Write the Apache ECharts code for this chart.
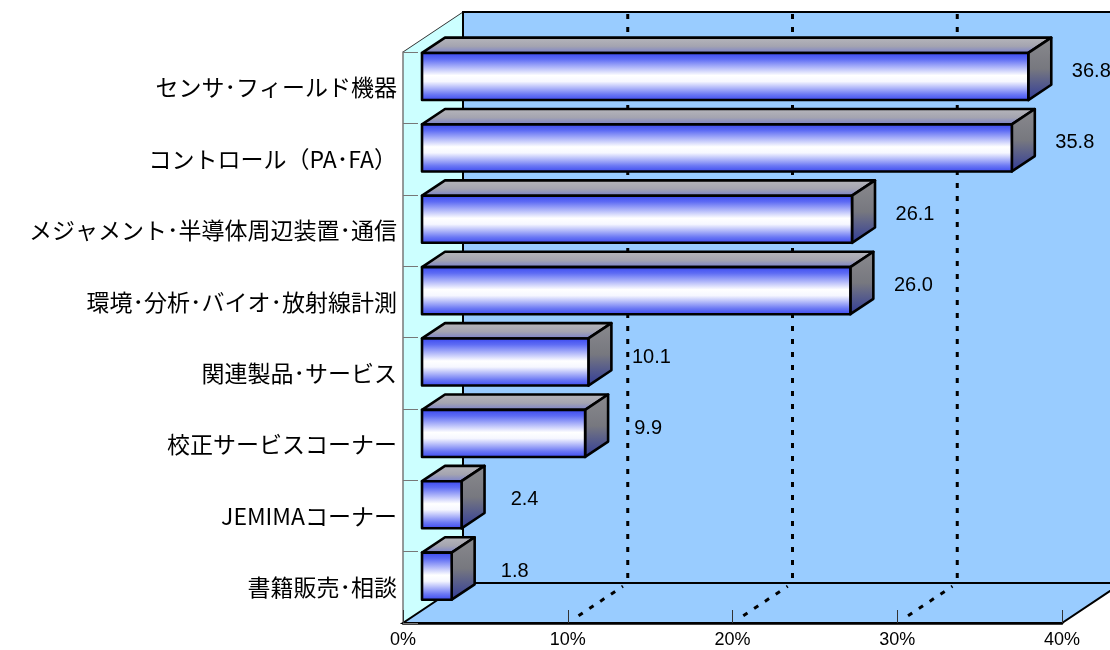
<!DOCTYPE html>
<html>
<head>
<meta charset="utf-8">
<script src="https://cdn.jsdelivr.net/npm/echarts@6/dist/echarts.min.js"></script>
<style>
html,body{margin:0;padding:0;background:#fff;}
#chart{width:1110px;height:650px;}
</style>
</head>
<body>
<div id="chart"></div>
<script>
const categories = [
  'センサ･フィールド機器',
  'コントロール（PA･FA）',
  'メジャメント･半導体周辺装置･通信',
  '環境･分析･バイオ･放射線計測',
  '関連製品･サービス',
  '校正サービスコーナー',
  'JEMIMAコーナー',
  '書籍販売･相談'
];
const values = [36.8, 35.8, 26.1, 26.0, 10.1, 9.9, 2.4, 1.8];
const xTicks = [0, 10, 20, 30, 40];
const gridValues = [10, 20, 30];

// 3D styling constants
const DX = 60, DY = -40;          // depth vector of the plot box
const F1 = 0.317, F2 = 0.70;      // bar front/back depth fractions
const BAR_RATIO = 0.66;
const LABEL_DX = 63, LABEL_DY = -5;

const chart = echarts.init(document.getElementById('chart'), null, {renderer: 'canvas'});

function frontGrad() {
  return new echarts.graphic.LinearGradient(0, 0, 0, 1, [
    {offset: 0, color: '#3543f0'},
    {offset: 0.15, color: '#5e6cf4'},
    {offset: 0.48, color: '#ffffff'},
    {offset: 0.6, color: '#f6f7ff'},
    {offset: 0.86, color: '#6b78f4'},
    {offset: 1, color: '#3543f0'}
  ]);
}
function topGrad() {
  return new echarts.graphic.LinearGradient(0, 0, 0, 1, [
    {offset: 0, color: '#b8b8bc'},
    {offset: 0.55, color: '#a4a4b0'},
    {offset: 1, color: '#737bd0'}
  ]);
}
function sideGrad() {
  return new echarts.graphic.LinearGradient(0, 0, 0, 1, [
    {offset: 0, color: '#8a8a8e'},
    {offset: 0.5, color: '#77787f'},
    {offset: 1, color: '#2f3a9a'}
  ]);
}

const dashStyle = {stroke: '#000', lineWidth: 3, lineDash: [5, 8]};

function renderWalls(params, api) {
  const n = categories.length;
  const bandH = api.size([0, 1])[1];
  const x0 = api.coord([xTicks[0], 0])[0];
  const x1 = api.coord([xTicks[xTicks.length - 1], 0])[0];
  const yTop = api.coord([0, 0])[1] - bandH / 2;
  const yBot = api.coord([0, n - 1])[1] + bandH / 2;
  const children = [];
  children.push({type: 'rect', shape: {x: x0 + DX, y: yTop + DY, width: x1 - x0, height: yBot - yTop},
    style: {fill: '#99ccff', stroke: '#000', lineWidth: 2}});
  gridValues.forEach(v => {
    const gx = api.coord([v, 0])[0] + DX;
    children.push({type: 'line', shape: {x1: gx, y1: yTop + DY + 2, x2: gx, y2: yBot + DY}, style: dashStyle});
  });
  children.push({type: 'polygon', shape: {points: [[x0, yTop], [x0 + DX, yTop + DY], [x0 + DX, yBot + DY], [x0, yBot]]},
    style: {fill: '#ccffff'}});
  children.push({type: 'line', shape: {x1: x0, y1: yTop, x2: x0 + DX, y2: yTop + DY}, style: {stroke: '#333', lineWidth: 1}});
  children.push({type: 'line', shape: {x1: x0 + DX, y1: yTop + DY, x2: x0 + DX, y2: yBot + DY}, style: {stroke: '#000', lineWidth: 2}});
  children.push({type: 'polygon', shape: {points: [[x0, yBot], [x1, yBot], [x1 + DX, yBot + DY], [x0 + DX, yBot + DY]]},
    style: {fill: '#99ccff', stroke: '#000', lineWidth: 2}});
  gridValues.forEach(v => {
    const gx = api.coord([v, 0])[0];
    children.push({type: 'line', shape: {x1: gx + DX * 0.18, y1: yBot + DY * 0.18, x2: gx + DX * 0.92, y2: yBot + DY * 0.92}, style: dashStyle});
  });
  return {type: 'group', children: children};
}

function renderBar(params, api) {
  const idx = api.value(1);
  const val = api.value(0);
  const bandH = api.size([0, 1])[1];
  const c = api.coord([0, idx]);
  const e = api.coord([val, idx]);
  const h = bandH * BAR_RATIO;
  const cy = c[1] + 1.5;
  const fx = DX * F1, fy = DY * F1;
  const bx = DX * F2, by = DY * F2;
  const L = c[0] + fx, R = e[0] + fx, T = cy - h / 2 + fy, B = cy + h / 2 + fy;
  const ddx = bx - fx, ddy = by - fy;
  const stroke = {stroke: '#000', lineWidth: 2.6, lineJoin: 'round'};
  return {type: 'group', children: [
    {type: 'polygon', shape: {points: [[L, T], [R, T], [R + ddx, T + ddy], [L + ddx, T + ddy]]},
      style: Object.assign({fill: topGrad()}, stroke)},
    {type: 'polygon', shape: {points: [[R, T], [R + ddx, T + ddy], [R + ddx, B + ddy], [R, B]]},
      style: Object.assign({fill: sideGrad()}, stroke)},
    {type: 'rect', shape: {x: L, y: T, width: R - L, height: B - T},
      style: Object.assign({fill: frontGrad()}, stroke)},
    {type: 'text', x: R + LABEL_DX, y: cy + fy + LABEL_DY,
      style: {text: val.toFixed(1), fill: '#000', fontSize: 20, fontFamily: 'Liberation Sans, Arial, sans-serif',
        align: 'center', verticalAlign: 'middle'}}
  ]};
}

const option = {
  backgroundColor: '#ffffff',
  animation: false,
  grid: {left: 403, top: 52, width: 659, height: 571, containLabel: false},
  xAxis: {
    type: 'value', min: xTicks[0], max: xTicks[xTicks.length - 1], interval: 10,
    axisLine: {show: true, lineStyle: {color: '#000', width: 2.5}},
    axisTick: {show: true, inside: true, length: 13, lineStyle: {color: '#333', width: 1}},
    axisLabel: {formatter: '{value}%', color: '#000', fontSize: 18, margin: 8, fontFamily: 'Liberation Sans, Arial, sans-serif'},
    splitLine: {show: false}
  },
  yAxis: {
    type: 'category', data: categories, inverse: true,
    axisLine: {show: true, lineStyle: {color: '#777', width: 1.5}},
    axisTick: {show: true, inside: true, length: 15, lineStyle: {color: '#777', width: 1}},
    axisLabel: {color: '#000', fontSize: 23, margin: 6, fontFamily: 'Noto Sans CJK JP, sans-serif'},
    splitLine: {show: false}
  },
  series: [
    {type: 'custom', z: -10, silent: true, renderItem: renderWalls, data: [[0, 0]], clip: false},
    {type: 'custom', z: 5, silent: true, renderItem: renderBar, clip: false,
      encode: {x: 0, y: 1},
      data: values.map((v, i) => [v, i])}
  ]
};
chart.setOption(option);
</script>
</body>
</html>
